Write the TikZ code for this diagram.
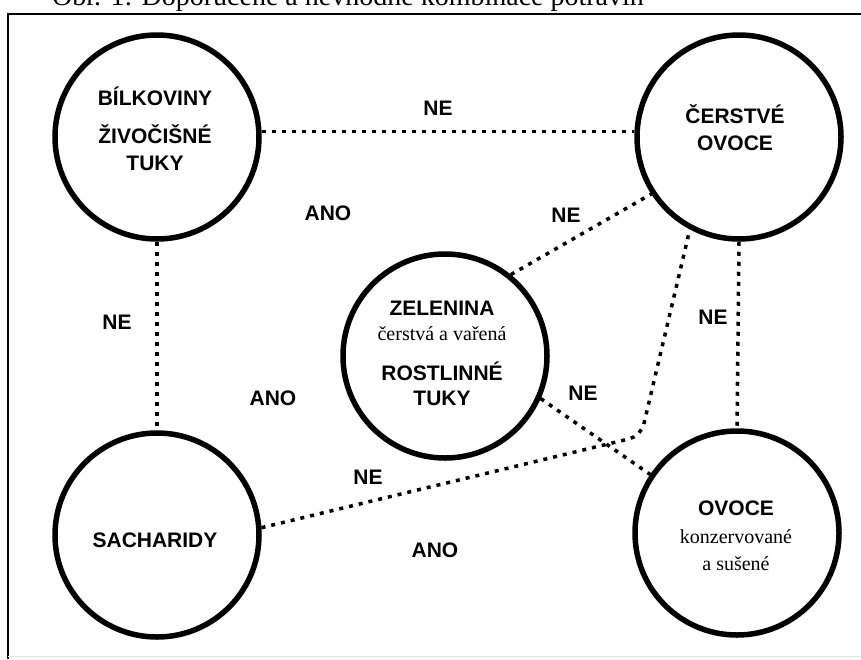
\documentclass[tikz,border=0pt]{standalone}
\usepackage{fontspec}
\setmainfont{Liberation Serif}
\newfontfamily\headfont{Liberation Sans}
\tikzset{
  food/.style={draw, circle, line width=5.5pt, minimum size=204pt, inner sep=0pt},
  never/.style={line width=3.5pt, dash pattern=on 4pt off 6pt},
  group/.style={font=\headfont\bfseries\fontsize{21}{25}\selectfont, anchor=base, inner sep=0pt},
  kind/.style={font=\fontsize{20}{24}\selectfont, anchor=base, inner sep=0pt},
  lab/.style={font=\headfont\bfseries\fontsize{21}{25}\selectfont, inner sep=0pt},
  frame/.style={line width=2pt},
}
\begin{document}
\begin{tikzpicture}[x=1pt,y=-1pt]
  \useasboundingbox (0,0) rectangle (861,659);
  % caption, cut off by the page edge
  \node[anchor=base west, inner sep=0pt, font=\fontsize{28}{30}\selectfont] (caption) at (52,5) {Obr. 1: Doporučené a nevhodné kombinace potravin};
  \draw[frame] (8,659) -- (8,14) -- (861,14);
  \draw[gray!20, line width=1pt] (8,656) -- (861,656);
  % food groups
  \node[food] (bilk) at (157,137) {};
  \node[food] (cerst) at (739,137) {};
  \node[food] (zel) at (445,356) {};
  \node[food] (sach) at (157,535) {};
  \node[food] (ovoce) at (737,533) {};
  \node[group] (bilk1) at (155,105) {BÍLKOVINY};
  \node[group] (bilk2) at (155,143) {ŽIVOČIŠNÉ};
  \node[group] (bilk3) at (155,170) {TUKY};
  \node[group] (cerst1) at (735,123) {ČERSTVÉ};
  \node[group] (cerst2) at (735,150) {OVOCE};
  \node[group] (zel1) at (442,315) {ZELENINA};
  \node[kind] (zel2) at (442,340) {čerstvá a vařená};
  \node[group] (zel3) at (442,380) {ROSTLINNÉ};
  \node[group] (zel4) at (442,405) {TUKY};
  \node[group] (ovoce1) at (736,515) {OVOCE};
  \node[kind] (ovoce2) at (736,543) {konzervované};
  \node[kind] (ovoce3) at (736,570) {a sušené};
  \node[group] (sach1) at (155,547) {SACHARIDY};
  % bad combinations
  \coordinate (knee) at (641,436);
  \draw[never] (bilk.3) -- (cerst.177);
  \draw[never] (bilk.south) -- (sach.north);
  \draw[never] (cerst.south) -- (ovoce.north);
  \draw[never] (zel.51) -- (cerst.213);
  \draw[never] (zel.-24) -- (ovoce.146);
  \draw[never, rounded corners=12pt] (sach.4) -- (knee) -- (cerst.242);
  \node[lab] (ne1) at (438,108) {NE};
  \node[lab] (ne2) at (117,322) {NE};
  \node[lab] (ne3) at (713,317) {NE};
  \node[lab] (ne4) at (566,215) {NE};
  \node[lab] (ne5) at (583,393) {NE};
  \node[lab] (ne6) at (368,477) {NE};
  \node[lab] (ano1) at (328,213) {ANO};
  \node[lab] (ano2) at (273,398) {ANO};
  \node[lab] (ano3) at (435,550) {ANO};
\end{tikzpicture}
\end{document}
